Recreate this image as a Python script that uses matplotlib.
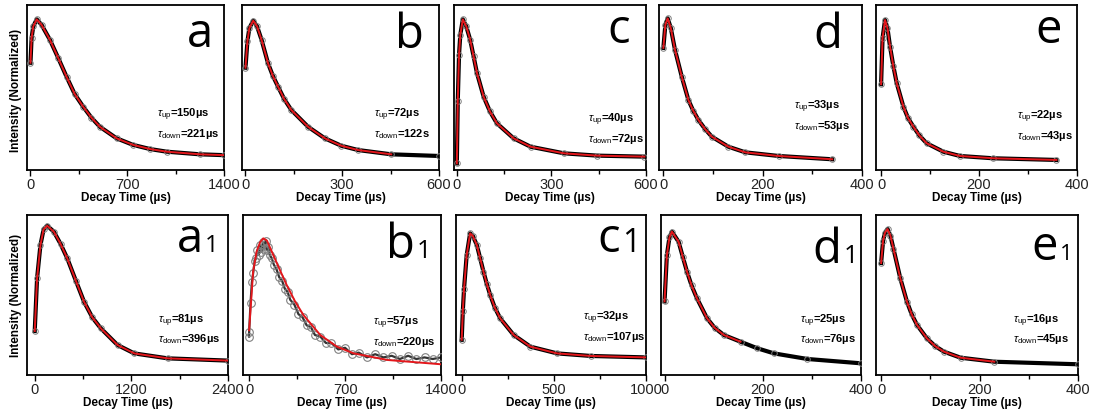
"""
Decay curves of ten samples (a-e, a1-e1): measured points (open circles)
with the rise/decay fit (red), arranged as a 2 x 5 grid.
"""

import matplotlib
matplotlib.use("Agg")
import matplotlib.pyplot as plt
from matplotlib.ticker import FixedLocator

plt.rcParams["font.family"] = ["Liberation Sans", "DejaVu Sans"]
plt.rcParams["mathtext.fontset"] = "custom"
plt.rcParams["mathtext.rm"] = "Liberation Sans"
plt.rcParams["mathtext.it"] = "Liberation Sans:italic"
plt.rcParams["mathtext.bf"] = "Liberation Sans:bold"

# ── Data (intensity normalised to the box height) ───────────────────────────
labels = ["a", "b", "c", "d", "e", "a", "b", "c", "d", "e"]
suffix = ["", "", "", "", "", "1", "1", "1", "1", "1"]
x_max = [1400, 600, 600, 400, 400, 2400, 1400, 1000, 400, 400]
tau_up = [150, 72, 40, 33, 22, 81, 57, 32, 25, 16]
tau_down = ["221µs", "122s", "72µs", "53µs", "43µs",
            "396µs", "220µs", "107µs", "76µs", "45µs"]
fit_end = [1400, 480, 600, 340, 360, 2400, 1400, 1000, 155, 264]

t_a = [0, 8, 20, 45, 80, 140, 200, 261, 320, 381, 440, 502, 623, 743, 865, 985, 1227, 1400]
i_a = [0.65, 0.80, 0.87, 0.913, 0.88, 0.79, 0.68, 0.565, 0.46, 0.384, 0.318, 0.262,
       0.192, 0.152, 0.127, 0.111, 0.095, 0.09]

t_b = [0, 6, 12, 24, 36, 50, 70, 85, 101, 120, 142, 194, 246, 297, 349, 452, 600]
i_b = [0.62, 0.78, 0.86, 0.905, 0.87, 0.788, 0.646, 0.57, 0.505, 0.43, 0.364, 0.262,
       0.192, 0.147, 0.121, 0.095, 0.085]

t_c = [0, 3, 7, 11, 19, 30, 42.5, 53, 64, 85, 105, 127, 180, 234, 340, 446, 595]
i_c = [0.04, 0.42, 0.70, 0.82, 0.913, 0.87, 0.788, 0.69, 0.586, 0.444, 0.355, 0.283,
       0.192, 0.141, 0.101, 0.087, 0.081]

t_d = [0, 4, 8.7, 15, 23.5, 37, 50.4, 60, 70.6, 84, 97.5, 131, 165, 232, 340]
i_d = [0.74, 0.88, 0.919, 0.86, 0.727, 0.566, 0.424, 0.36, 0.303, 0.248, 0.202,
       0.141, 0.107, 0.085, 0.065]

t_e = [0, 3, 8, 13, 18.3, 25, 32, 45.5, 55, 66, 78, 93, 127, 161, 229, 358]
i_e = [0.52, 0.80, 0.909, 0.86, 0.747, 0.63, 0.525, 0.384, 0.315, 0.262, 0.21,
       0.162, 0.111, 0.085, 0.071, 0.061]

t_a1 = [0, 29, 71, 110, 154, 237, 320, 404, 510, 612, 715, 820, 1028, 1236, 1652, 2400]
i_a1 = [0.275, 0.604, 0.8125, 0.91, 0.933, 0.896, 0.82, 0.729, 0.59, 0.458,
        0.36, 0.292, 0.1875, 0.135, 0.104, 0.09]

t_b1 = [0, 29, 54, 80, 103, 130, 176, 225, 274, 335, 396, 519, 641, 764, 1008, 1400]
i_b1 = [0.28, 0.646, 0.77, 0.83, 0.854, 0.84, 0.75, 0.655, 0.5625, 0.46, 0.375,
        0.25, 0.177, 0.135, 0.094, 0.067]
# b1 is noisy: its measured points are kept apart from the fit
t_b1_pts = [0, 0, 10, 20, 30, 40, 50, 60, 70, 80, 90, 100, 110, 120, 130, 140,
            150, 165, 180, 200, 220, 240, 260, 280, 300, 330, 360, 390, 420,
            450, 480, 520, 560, 600, 650, 700, 750, 800, 860, 920, 980, 1040,
            1100, 1160, 1220, 1280, 1340, 1400]
i_b1_pts = [0.24, 0.27, 0.45, 0.58, 0.64, 0.71, 0.73, 0.78, 0.75, 0.81, 0.77,
            0.83, 0.79, 0.84, 0.78, 0.80, 0.75, 0.73, 0.69, 0.66, 0.61, 0.59,
            0.54, 0.52, 0.47, 0.44, 0.38, 0.36, 0.31, 0.30, 0.25, 0.24, 0.20,
            0.20, 0.16, 0.17, 0.13, 0.14, 0.11, 0.13, 0.11, 0.12, 0.10, 0.12,
            0.10, 0.11, 0.10, 0.11]

t_c1 = [0, 6, 12.7, 27, 45.5, 60, 82, 100, 118, 136, 154.5, 180, 209, 282, 373, 518, 700, 1000]
i_c1 = [0.22, 0.40, 0.54, 0.75, 0.885, 0.87, 0.8125, 0.73, 0.646, 0.57, 0.5, 0.42,
        0.354, 0.25, 0.177, 0.135, 0.119, 0.11]

t_d1 = [0, 4.8, 10, 15, 28.6, 37, 45.7, 55, 66, 86.6, 102, 120.7, 154.7, 188.8, 223, 291, 400]
i_d1 = [0.46, 0.75, 0.86, 0.896, 0.833, 0.74, 0.646, 0.56, 0.479, 0.354, 0.295,
        0.25, 0.208, 0.167, 0.135, 0.10, 0.073]

t_e1 = [0, 4, 8, 13, 19, 25, 39, 52.5, 62, 73, 93, 110, 127.5, 161.5, 230, 400]
i_e1 = [0.70, 0.84, 0.89, 0.9125, 0.87, 0.79, 0.604, 0.458, 0.38, 0.3125, 0.229,
        0.18, 0.146, 0.108, 0.083, 0.067]

times = [t_a, t_b, t_c, t_d, t_e, t_a1, t_b1, t_c1, t_d1, t_e1]
intens = [i_a, i_b, i_c, i_d, i_e, i_a1, i_b1, i_c1, i_d1, i_e1]

# ── Layout (pixel boxes of the reference, 1094 x 416) ───────────────────────
W, H = 1094, 416
boxes = [(27, 224, 5, 170), (242, 439, 5, 170), (454, 646, 5, 170),
         (659, 862, 5, 170), (876, 1077, 5, 170),
         (27, 228, 215, 375), (243, 441, 215, 375), (456, 646, 215, 375),
         (661, 861, 215, 375), (876, 1078, 215, 375)]
x_left = [-0.018, -0.018, -0.015, -0.022, -0.026,
          -0.04, -0.032, -0.031, -0.018, -0.026]
letter_pos = [(0.944, 0.745), (0.922, 0.739), (0.918, 0.768), (0.903, 0.737),
              (0.924, 0.768), (0.952, 0.77), (0.951, 0.729), (0.97, 0.77),
              (0.985, 0.698), (0.975, 0.72)]
suffix_size = [0, 0, 0, 0, 0, 17, 18, 23, 18, 16]
tau_x = [0.66, 0.67, 0.70, 0.665, 0.70, 0.65, 0.655, 0.67, 0.695, 0.68]
tau_y = [0.32, 0.32, 0.29, 0.37, 0.31, 0.325, 0.31, 0.34, 0.325, 0.325]

RED = "#e3161b"

fig = plt.figure(figsize=(W / 100, H / 100), dpi=100)
renderer = fig.canvas.get_renderer()

for k in range(10):
    x0, x1, y0, y1 = boxes[k]
    ax = fig.add_axes([x0 / W, 1 - y1 / H, (x1 - x0) / W, (y1 - y0) / H])
    t, v = times[k], intens[k]

    # measured points: dense band of open circles
    if k == 6:
        ax.plot(t_b1_pts, i_b1_pts, color="0.2", lw=1.6, zorder=2)
        ax.plot(t_b1_pts, i_b1_pts, ls="none", marker="o", ms=5.5, mfc="none",
                mec="0.5", mew=0.8, zorder=3)
    else:
        ax.plot(t, v, color="black", lw=3.0, zorder=2)
        ax.plot(t, v, ls="none", marker="o", ms=4, mfc="none", mec="0.5",
                mew=0.7, zorder=3)

    # fit
    tf = [ti for ti in t if ti <= fit_end[k]]
    ax.plot(tf, v[:len(tf)], color=RED, lw=1.4, zorder=4)

    xm = x_max[k]
    ax.set_xlim(x_left[k] * xm, xm)
    ax.set_ylim(0, 1)
    ax.xaxis.set_major_locator(FixedLocator([0, xm / 2, xm]))
    ax.xaxis.set_minor_locator(FixedLocator([xm / 4, 3 * xm / 4]))
    ax.set_xticklabels(["0", f"{xm // 2:g}", f"{xm:g}"], fontsize=10.5, color="#222222")
    ax.tick_params(axis="x", which="major", length=4, width=1, pad=1.5)
    ax.tick_params(axis="x", which="minor", length=3, width=1)
    ax.set_yticks([])
    for sp in ax.spines.values():
        sp.set_linewidth(1.3)
    ax.set_xlabel("Decay Time (µs)", fontsize=8.5, fontweight="bold", labelpad=0.5)

    if k % 5 == 0:
        ax.set_ylabel("Intensity (Normalized)", fontsize=8.5, fontweight="bold")
        ax.yaxis.set_label_coords(-0.027, 0.485 if k == 0 else 0.5)

    # panel letter
    lx, ly = letter_pos[k]
    if suffix[k]:
        s = ax.text(lx, ly, suffix[k], transform=ax.transAxes, ha="right",
                    va="baseline", fontsize=suffix_size[k], family="Open Sans")
        bb = s.get_window_extent(renderer)
        lx = ax.transAxes.inverted().transform((bb.x0 - 2, bb.y0))[0]
    ax.text(lx, ly, labels[k], transform=ax.transAxes, ha="right",
            va="baseline", fontsize=34, family="Open Sans")

    # time constants
    ax.text(tau_x[k], tau_y[k], r"$\tau_{\mathrm{up}}$" + f"={tau_up[k]}µs",
            transform=ax.transAxes, fontsize=8, fontweight="bold",
            va="baseline", ha="left")
    ax.text(tau_x[k], tau_y[k] - 0.12, r"$\tau_{\mathrm{down}}$" + "=" + tau_down[k],
            transform=ax.transAxes, fontsize=8, fontweight="bold",
            va="baseline", ha="left")

fig.savefig("out.png", dpi=100)
